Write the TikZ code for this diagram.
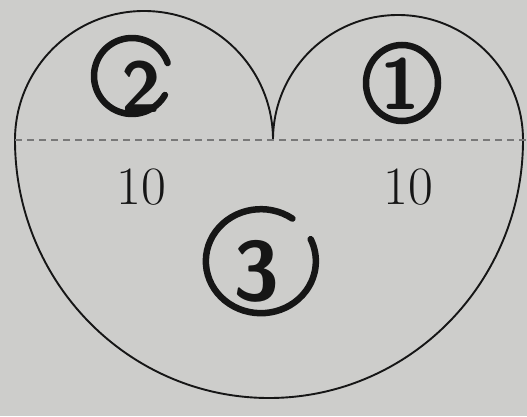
\documentclass[tikz,border=0pt]{standalone}
\usepackage{tikz}
\usetikzlibrary{positioning}
\definecolor{paper}{RGB}{205,205,203}
\definecolor{ink}{RGB}{22,22,22}
\definecolor{cutgray}{RGB}{120,120,120}
\tikzset{
  outline/.style={draw=ink, line width=1.9pt},
  cutline/.style={draw=cutgray, line width=1.6pt, dash pattern=on 7pt off 5pt},
  lenlabel/.style={font=\fontsize{54}{54}\selectfont, text=ink, inner sep=0pt},
  partnum/.style={font=\sffamily\bfseries\fontsize{72}{72}\selectfont, text=ink, inner sep=0pt},
  ring/.style={draw=ink, line width=6.5pt, line cap=round}
}

\begin{document}
\begin{tikzpicture}[x=1pt, y=1pt]
  \fill[paper] (0,0) rectangle (527,416);
  \useasboundingbox (0,0) rectangle (527,416);

  \coordinate (west) at (15,276);
  \coordinate (cusp) at (273,276);
  \coordinate (east) at (523,276);
  \coordinate (dashend) at (527,276);

  % heart outline
  \draw[outline] (west) arc[start angle=180, end angle=0, radius=129]
    arc[start angle=180, end angle=0, radius=125]
    arc[start angle=0, end angle=-180, x radius=254, y radius=258];

  % cut line
  \draw[cutline] (west) -- (dashend);

  \node[lenlabel] (lenleft) at (141,229) {10};
  \node[lenlabel] (lenright) at (408,229) {10};

  % part numbers
  \node[partnum] (parttwo) at (141,329) {2};
  \draw[ring] (132,340) ++(20:38) arc[start angle=20, end angle=330, radius=38];

  \node[partnum] (partone) at (400,332) {1};
  \draw[ring] (402,333) ellipse[x radius=36, y radius=38];

  \node[partnum, font=\sffamily\bfseries\fontsize{84}{84}\selectfont] (partthree) at (257,145) {3};
  \draw[ring] (262,154) ++(55:53) arc[start angle=55, end angle=385, x radius=55, y radius=52];
\end{tikzpicture}
\end{document}
